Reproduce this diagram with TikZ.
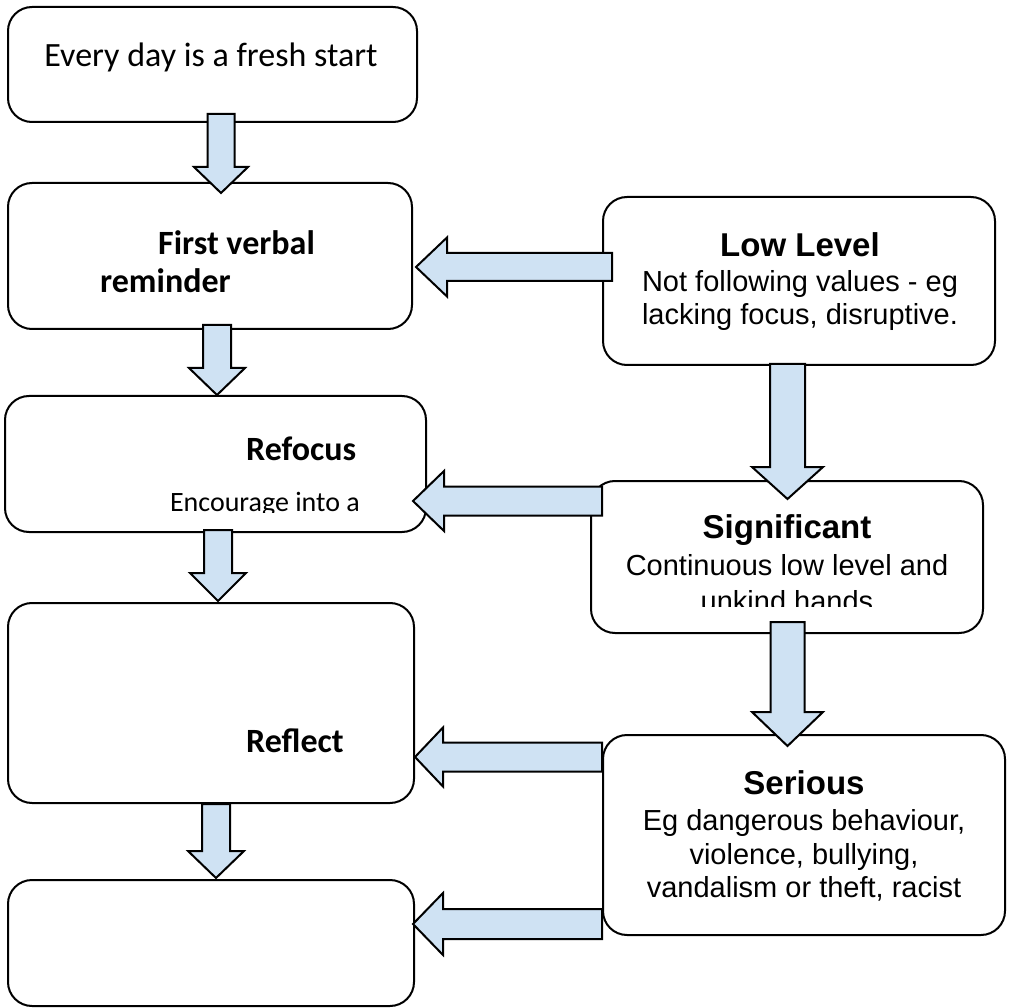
\documentclass[tikz,border=0pt]{standalone}
\usepackage{fontspec}
\setmainfont{Liberation Sans}
\newfontfamily\calfont{Carlito}
\newfontfamily\arifont{Liberation Sans}
\usetikzlibrary{calc}
\definecolor{arrowblue}{HTML}{CFE2F3}
\tikzset{
  box/.style={draw=black, line width=2pt, rounded corners=24pt, fill=white, inner sep=0pt, shape=rectangle},
  blockarrow/.style={draw=black, line width=2pt, fill=arrowblue, line join=miter},
  calreg/.style={inner sep=0pt, font=\calfont\fontsize{34}{40}\selectfont},
  calsmall/.style={inner sep=0pt, font=\calfont\fontsize{28}{34}\selectfont},
  calbold/.style={inner sep=0pt, font=\calfont\bfseries\fontsize{34}{40}\selectfont},
  arihead/.style={inner sep=0pt, font=\arifont\bfseries\fontsize{33}{38}\selectfont},
  aribody/.style={inner sep=0pt, font=\arifont\fontsize{29}{33}\selectfont},
}
% down block arrow: #1 start (top of shaft), #2 tip, #3 shaft half width, #4 head half width, #5 head length
\newcommand\blkdown[5]{%
  \path[blockarrow] let \p1=(#1), \p2=(#2) in
    (\x2-#3,\y1) -- (\x2+#3,\y1) -- (\x2+#3,\y2+#5) -- (\x2+#4,\y2+#5) -- (\x2,\y2)
    -- (\x2-#4,\y2+#5) -- (\x2-#3,\y2+#5) -- cycle;}
% left block arrow: #1 start (right end of shaft), #2 tip
\newcommand\blkleft[5]{%
  \path[blockarrow] let \p1=(#1), \p2=(#2) in
    (\x1,\y2+#3) -- (\x2+#5,\y2+#3) -- (\x2+#5,\y2+#4) -- (\x2,\y2)
    -- (\x2+#5,\y2-#4) -- (\x2+#5,\y2-#3) -- (\x1,\y2-#3) -- cycle;}
\begin{document}
\begin{tikzpicture}[x=1pt,y=-1pt]
\useasboundingbox (0,0) rectangle (1010,1008);
\fill[white] (0,0) rectangle (1010,1008);

% boxes
\node[box, minimum width=409pt, minimum height=115pt] (top) at (212.5,64.5) {};
\node[box, minimum width=404pt, minimum height=146pt] (first) at (210,256) {};
\node[box, minimum width=421pt, minimum height=136pt] (refocus) at (215.5,464) {};
\node[box, minimum width=406pt, minimum height=200pt] (reflect) at (211,703) {};
\node[box, minimum width=406pt, minimum height=126pt] (bottom) at (211,943) {};
\node[box, minimum width=392pt, minimum height=168pt] (ll) at (799,281) {};
\node[box, minimum width=392pt, minimum height=152pt] (sig) at (787,557) {};
\node[box, minimum width=402pt, minimum height=200pt] (ser) at (804,835) {};

% texts
\node[calreg, anchor=base] (ttop) at (211,67) {Every day is a fresh start};
\node[calbold, anchor=base west] (tfirst1) at (158,255) {First verbal};
\node[calbold, anchor=base west] (tfirst2) at (100,293) {reminder};
\node[calbold, anchor=base west] (tref1) at (246,460) {Refocus};
\begin{scope}
  \clip (0,480) rectangle (430,512);
  \node[calsmall, anchor=base east] (tref2) at (360,511) {Encourage into a};
\end{scope}
\node[calbold, anchor=base west] (trefl) at (246,752) {Reflect};

\node[arihead, anchor=base] (tll1) at (800,257) {Low Level};
\node[aribody, anchor=base] (tll2) at (800,292) {Not following values - eg};
\node[aribody, anchor=base] (tll3) at (800,325) {lacking focus, disruptive.};

\node[arihead, anchor=base] (tsig1) at (787,538) {Significant};
\begin{scope}
  \clip (590,540) rectangle (990,606);
  \node[aribody, anchor=base] (tsig2) at (787,575) {Continuous low level and};
  \node[aribody, anchor=base] (tsig3) at (787,611) {unkind hands};
\end{scope}

\node[arihead, anchor=base] (tser1) at (804,794) {Serious};
\node[aribody, anchor=base] (tser2) at (804,830) {Eg dangerous behaviour,};
\node[aribody, anchor=base] (tser3) at (804,864) {violence, bullying,};
\node[aribody, anchor=base] (tser4) at (804,897) {vandalism or theft, racist};

% down arrows, left column
\blkdown{$(top.south)+(8.5,-9)$}{$(first.north)+(11,11)$}{13.5pt}{27pt}{26pt}
\blkdown{$(first.south)+(7,-5)$}{$(refocus.north)+(1.5,0)$}{14pt}{28pt}{27pt}
\blkdown{$(refocus.south)+(2.5,-3)$}{$(reflect.north)+(7,-1)$}{14pt}{28pt}{28pt}
\blkdown{$(reflect.south)+(5,0)$}{$(bottom.north)+(5,-1)$}{14pt}{28pt}{27pt}

% down arrows, right column
\blkdown{$(ll.south)+(-11.5,-2)$}{$(sig.north)+(0.5,19)$}{17.5pt}{35.5pt}{32pt}
\blkdown{$(sig.south)+(0,-12)$}{$(ser.north)+(-16.5,12)$}{17pt}{35.5pt}{34pt}

% left arrows
\blkleft{$(ll.west)+(10,-14)$}{$(first.east)+(3,11)$}{14pt}{29.5pt}{31pt}
\blkleft{$(sig.west)+(12,-56)$}{$(refocus.east)+(-14,37)$}{14.5pt}{30pt}{31pt}
\blkleft{$(ser.west)+(0,-78)$}{$(reflect.east)+(0,54)$}{14.5pt}{29.5pt}{28pt}
\blkleft{$(ser.west)+(0,89)$}{$(bottom.east)+(-2,-19)$}{15pt}{31pt}{30pt}
\end{tikzpicture}
\end{document}
